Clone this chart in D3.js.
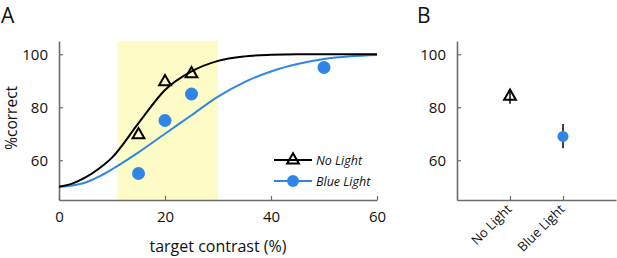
<!DOCTYPE html>
<html>
<head>
<meta charset="utf-8">
<script src="https://cdn.jsdelivr.net/npm/d3@7"></script>
<style>
  body { margin: 0; background: #fff; }
  svg text { font-family: "Open Sans", "Noto Sans", sans-serif; fill: #111; }
</style>
</head>
<body>
<div id="chart-area"></div>
<script>
// Panel A: observed points
let contrastNoLight = [15, 20, 25];
let correctNoLight = [70, 90, 93];
let contrastBlue = [15, 20, 25, 50];
let correctBlue = [55, 75, 85, 95];

// Panel A: fitted curves
let curveContrast = [0, 2.5, 5, 7.5, 10, 15, 20, 25, 30, 35, 40, 45, 50, 55, 60];
let curveNoLight = [50, 51.2, 53.5, 56.8, 61, 74, 86.5, 93.5, 97.5, 99.2, 99.8, 100, 100, 100, 100];
let curveBlue = [50, 50.5, 51.6, 53.8, 56.6, 63, 70, 77, 84, 89.5, 93.5, 96.3, 98.2, 99.2, 99.7];

// shaded contrast window
let shadeRange = [11, 30];

let xTicksA = [0, 20, 40, 60];
let yTicks = [60, 80, 100];

// Panel B: means and error bars
let conditions = ["No Light", "Blue Light"];
let meanCorrect = [84.5, 69];
let errLow = [81.3, 64.5];
let errHigh = [86.7, 73.7];

let blue = "#2f86e6";
let axisGrey = "#6b6b6b";

let svg = d3.select("#chart-area").append("svg")
	.attr("width", 617)
	.attr("height", 258);

// ---------- Panel A ----------
let xA = d3.scaleLinear().domain([0, 60]).range([59, 377]);
let yA = d3.scaleLinear().domain([45, 105]).range([200, 41]);

svg.append("rect")
	.attr("x", xA(shadeRange[0]))
	.attr("y", yA(105))
	.attr("width", xA(shadeRange[1]) - xA(shadeRange[0]))
	.attr("height", yA(45) - yA(105))
	.attr("fill", "#fefcc6");

function styleAxis(g) {
	g.select(".domain").attr("stroke", axisGrey).attr("stroke-width", 1.6);
	g.selectAll(".tick line").attr("stroke", axisGrey).attr("stroke-width", 1.2);
	g.selectAll(".tick text")
		.attr("fill", "#111")
		.style("font-size", "15px")
		.style("font-family", "'Open Sans', 'Noto Sans', sans-serif");
}

let xAxisA = d3.axisBottom(xA).tickValues(xTicksA).tickSizeInner(-4).tickSizeOuter(0).tickPadding(11);
svg.append("g")
	.attr("transform", "translate(0," + yA(45) + ")")
	.call(xAxisA)
	.call(styleAxis);

let yAxisA = d3.axisLeft(yA).tickValues(yTicks).tickSizeInner(-4).tickSizeOuter(0).tickPadding(11);
svg.append("g")
	.attr("transform", "translate(" + xA(0) + ",0)")
	.call(yAxisA)
	.call(styleAxis);

let line = d3.line()
	.x(d => xA(d[0]))
	.y(d => yA(d[1]))
	.curve(d3.curveMonotoneX);

svg.append("path")
	.datum(curveContrast.map((c, i) => [c, curveBlue[i]]))
	.attr("d", line)
	.attr("fill", "none")
	.attr("stroke", blue)
	.attr("stroke-width", 2);

svg.append("path")
	.datum(curveContrast.map((c, i) => [c, curveNoLight[i]]))
	.attr("d", line)
	.attr("fill", "none")
	.attr("stroke", "#000")
	.attr("stroke-width", 2);

let triangle = d3.symbol().type(d3.symbolTriangle).size(60);

svg.selectAll(".pt-blue")
	.data(contrastBlue.map((c, i) => [c, correctBlue[i]]))
	.enter().append("circle")
	.attr("class", "pt-blue")
	.attr("cx", d => xA(d[0]))
	.attr("cy", d => yA(d[1]))
	.attr("r", 6.5)
	.attr("fill", blue);

svg.selectAll(".pt-nolight")
	.data(contrastNoLight.map((c, i) => [c, correctNoLight[i]]))
	.enter().append("path")
	.attr("class", "pt-nolight")
	.attr("d", triangle)
	.attr("transform", d => "translate(" + xA(d[0]) + "," + (yA(d[1]) + 1) + ")")
	.attr("fill", "none")
	.attr("stroke", "#000")
	.attr("stroke-width", 2);

// legend
let legend = svg.append("g");
legend.append("line").attr("x1", 274).attr("x2", 312).attr("y1", 160).attr("y2", 160)
	.attr("stroke", "#000").attr("stroke-width", 2);
legend.append("path").attr("d", triangle)
	.attr("transform", "translate(293,160)")
	.attr("fill", "none").attr("stroke", "#000").attr("stroke-width", 2);
legend.append("text").attr("x", 316).attr("y", 165)
	.style("font-size", "12.5px").style("font-style", "italic").text("No Light");
legend.append("line").attr("x1", 274).attr("x2", 312).attr("y1", 181).attr("y2", 181)
	.attr("stroke", blue).attr("stroke-width", 2);
legend.append("circle").attr("cx", 293).attr("cy", 181).attr("r", 6).attr("fill", blue);
legend.append("text").attr("x", 316).attr("y", 186)
	.style("font-size", "12.5px").style("font-style", "italic").text("Blue Light");

svg.append("text")
	.attr("x", (xA(0) + xA(60)) / 2)
	.attr("y", 252)
	.attr("text-anchor", "middle")
	.style("font-size", "16px")
	.text("target contrast (%)");

svg.append("text")
	.attr("transform", "translate(17," + yA(76) + ") rotate(-90)")
	.attr("text-anchor", "middle")
	.style("font-size", "15.5px")
	.text("%correct");

svg.append("text").attr("x", 1).attr("y", 23)
	.style("font-size", "21px").text("A");

// ---------- Panel B ----------
let xB = d3.scalePoint().domain(conditions).range([457, 616]).padding(1);
let yB = d3.scaleLinear().domain([45, 105]).range([200, 41]);

let xAxisB = d3.axisBottom(xB).tickSizeInner(-4).tickSizeOuter(0);
let gxB = svg.append("g")
	.attr("transform", "translate(0," + yB(45) + ")")
	.call(xAxisB)
	.call(styleAxis);
gxB.selectAll(".tick text")
	.style("font-size", "13px")
	.attr("text-anchor", "end")
	.attr("x", 0)
	.attr("y", 0)
	.attr("dy", 0)
	.attr("transform", "translate(2,10) rotate(-45)");

let yAxisB = d3.axisLeft(yB).tickValues(yTicks).tickSizeInner(-4).tickSizeOuter(0).tickPadding(11);
svg.append("g")
	.attr("transform", "translate(457,0)")
	.call(yAxisB)
	.call(styleAxis);

svg.selectAll(".err")
	.data(conditions)
	.enter().append("line")
	.attr("class", "err")
	.attr("x1", d => xB(d))
	.attr("x2", d => xB(d))
	.attr("y1", (d, i) => yB(errLow[i]))
	.attr("y2", (d, i) => yB(errHigh[i]))
	.attr("stroke", "#000")
	.attr("stroke-width", 1.5);

svg.append("path")
	.attr("d", triangle)
	.attr("transform", "translate(" + xB(conditions[0]) + "," + (yB(meanCorrect[0]) + 1) + ")")
	.attr("fill", "none")
	.attr("stroke", "#000")
	.attr("stroke-width", 2);

svg.append("circle")
	.attr("cx", xB(conditions[1]))
	.attr("cy", yB(meanCorrect[1]))
	.attr("r", 5.5)
	.attr("fill", blue);

svg.append("text").attr("x", 417).attr("y", 23)
	.style("font-size", "21px").text("B");
</script>
</body>
</html>
